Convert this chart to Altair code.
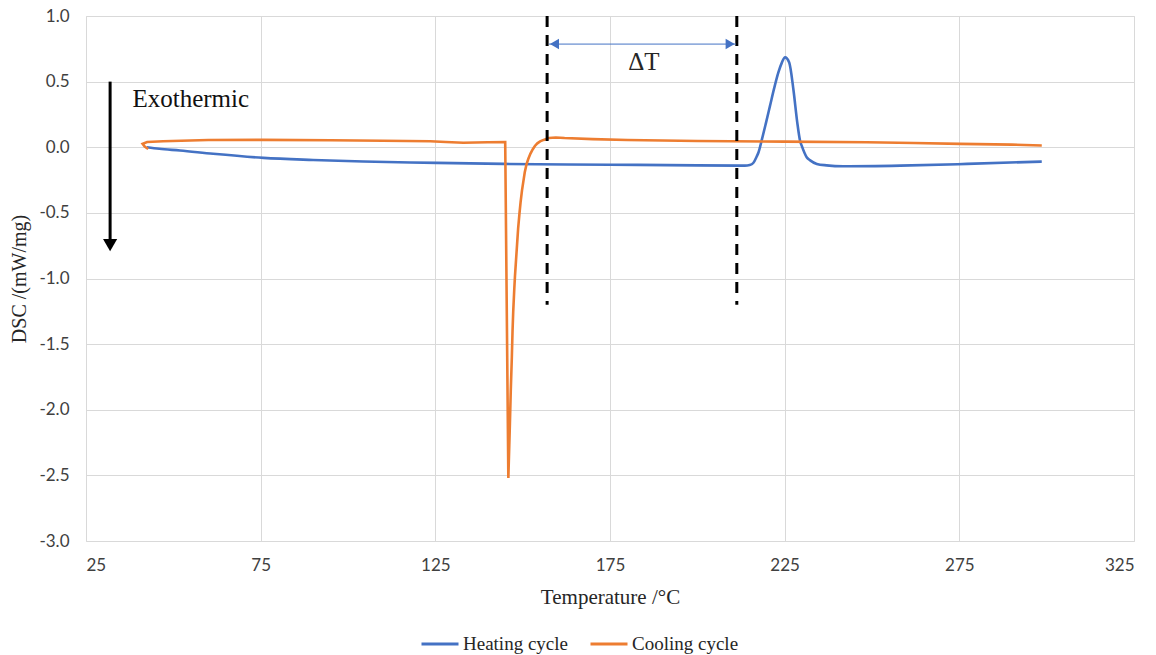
import altair as alt
import pandas as pd

# ---- data ----
heating_T = [42.4, 46, 51.9, 61.4, 75.8, 90, 104.4, 125.4, 144.5, 175, 200, 212, 213.6, 215,
             216, 217, 217.5, 218.4, 219.6, 220.8, 222, 223.2, 224.2, 225.1, 226.3, 227.5,
             228.6, 229.4, 229.9, 231.3, 232.3, 234.2, 237, 241.8, 258.1, 277.2, 298.6]
heating_dsc = [0.0, -0.012, -0.025, -0.05, -0.081, -0.097, -0.109, -0.119, -0.127, -0.133,
               -0.138, -0.14, -0.14, -0.135, -0.12, -0.07, -0.04, 0.05, 0.18, 0.315, 0.45,
               0.57, 0.645, 0.685, 0.646, 0.44, 0.19, 0.05, 0.01, -0.076, -0.10, -0.127,
               -0.138, -0.145, -0.14, -0.127, -0.109]

cooling_T = [298.6, 290, 275.2, 262, 248.5, 225, 200, 180, 170, 162, 159.5, 157.5, 156, 155,
             154.2, 153.5, 152.9, 152.2, 151.6, 151.1, 150.6, 150.2, 149.8, 149.4, 149.1, 148.7,
             148.4, 148.1, 147.8, 147.6, 147.3, 147.1, 146.9, 146.6, 146.3, 145.9, 145.0, 140,
             133, 128, 123.5, 110, 95, 75.8, 60, 47.1, 42.5, 41.2, 41.8, 42.8]
cooling_dsc = [0.013, 0.02, 0.026, 0.032, 0.038, 0.043, 0.048, 0.055, 0.062, 0.07, 0.074, 0.07,
               0.056, 0.045, 0.03, 0.01, -0.015, -0.05, -0.09, -0.13, -0.19, -0.26, -0.33,
               -0.42, -0.50, -0.62, -0.74, -0.86, -0.98, -1.08, -1.25, -1.40, -1.60, -1.85,
               -2.15, -2.52, 0.040, 0.038, 0.034, 0.04, 0.046, 0.05, 0.053, 0.056, 0.055, 0.046,
               0.04, 0.026, 0.005, -0.013]

series_names = ["Heating cycle", "Cooling cycle"]
series_colors = ["#4472C4", "#ED7D31"]

x_ticks = [25, 75, 125, 175, 225, 275, 325]
y_ticks = [1.0, 0.5, 0.0, -0.5, -1.0, -1.5, -2.0, -2.5, -3.0]

dash_T = [157.0, 211.3]
dash_top, dash_bottom = 1.0, -1.2
delta_T_start, delta_T_end, delta_T_y = 157.5, 211.0, 0.786
delta_label = "ΔT"
delta_label_T, delta_label_y = 184.7, 0.647
exo_T, exo_top, exo_tip = 31.9, 0.5, -0.80
exo_label = "Exothermic"
exo_label_T, exo_label_y = 38.3, 0.37

heat_df = pd.DataFrame({"series": series_names[0], "T": heating_T, "DSC": heating_dsc,
                        "i": list(range(len(heating_T)))})
cool_df = pd.DataFrame({"series": series_names[1], "T": cooling_T, "DSC": cooling_dsc,
                        "i": list(range(len(cooling_T)))})

xscale = alt.Scale(domain=[25, 325], nice=False, zero=False)
yscale = alt.Scale(domain=[-3, 1], nice=False, zero=False)

xaxis = alt.Axis(values=x_ticks, title="Temperature /°C", grid=True, gridColor="#d9d9d9",
                 domain=False, ticks=False, labelFont="Lato", labelFontSize=17,
                 labelColor="#404040", labelPadding=16, titleFont="Liberation Serif",
                 titleFontSize=21, titleFontWeight="normal", titleColor="#262626",
                 titlePadding=13)
yaxis = alt.Axis(values=y_ticks, title="DSC /(mW/mg)", grid=True,
                 labelExpr="replace(format(datum.value, '.1f'), '\u2212', '-')",
                 gridColor="#d9d9d9", domain=False, ticks=False, labelFont="Lato",
                 labelFontSize=17, labelColor="#404040", labelPadding=17,
                 titleFont="Liberation Serif", titleFontSize=20, titleFontWeight="normal",
                 titleColor="#262626", titlePadding=9)

color = alt.Color("series:N", scale=alt.Scale(domain=series_names, range=series_colors),
                  legend=alt.Legend(orient="none", legendX=334, legendY=608,
                                    direction="horizontal", title=None,
                                    symbolType="stroke", symbolSize=1369,
                                    symbolStrokeWidth=3, labelFont="Liberation Serif",
                                    labelFontSize=19, labelColor="#262626",
                                    labelOffset=3, columnPadding=16))

heat_line = alt.Chart(heat_df).mark_line(strokeWidth=2.6, clip=False,
                                         interpolate="monotone").encode(
    x=alt.X("T:Q", scale=xscale, axis=xaxis),
    y=alt.Y("DSC:Q", scale=yscale, axis=yaxis),
    color=color, order="i:Q")

cool_line = alt.Chart(cool_df).mark_line(strokeWidth=2.6, clip=False).encode(
    x=alt.X("T:Q", scale=xscale, axis=xaxis),
    y=alt.Y("DSC:Q", scale=yscale, axis=yaxis),
    color=color, order="i:Q")

dash_df = pd.DataFrame({"T": dash_T, "top": [dash_top] * 2, "bottom": [dash_bottom] * 2})
dashes = alt.Chart(dash_df).mark_rule(color="black", strokeWidth=3, strokeDash=[11, 8],
                                      clip=False).encode(
    x=alt.X("T:Q", scale=xscale), y=alt.Y("top:Q", scale=yscale), y2="bottom:Q")

delta_df = pd.DataFrame({"a": [delta_T_start], "b": [delta_T_end], "y": [delta_T_y]})
delta_line = alt.Chart(delta_df).mark_rule(color="#4472C4", strokeWidth=1).encode(
    x=alt.X("a:Q", scale=xscale), x2="b:Q", y=alt.Y("y:Q", scale=yscale))

heads_df = pd.DataFrame({"T": [delta_T_start + 1.6, delta_T_end - 1.6],
                         "y": [delta_T_y, delta_T_y],
                         "shape": ["triangle-left", "triangle-right"]})
heads = alt.Chart(heads_df).mark_point(filled=True, size=110, color="#4472C4", opacity=1).encode(
    x=alt.X("T:Q", scale=xscale), y=alt.Y("y:Q", scale=yscale),
    shape=alt.Shape("shape:N", scale=None))

delta_text = alt.Chart(pd.DataFrame({"T": [delta_label_T], "y": [delta_label_y],
                                     "t": [delta_label]})).mark_text(
    font="Liberation Serif", fontSize=25, color="#262626", align="center",
    baseline="middle").encode(x=alt.X("T:Q", scale=xscale), y=alt.Y("y:Q", scale=yscale),
                              text="t:N")

exo_df = pd.DataFrame({"T": [exo_T], "top": [exo_top], "bottom": [exo_tip + 0.08]})
exo_line = alt.Chart(exo_df).mark_rule(color="black", strokeWidth=3).encode(
    x=alt.X("T:Q", scale=xscale), y=alt.Y("top:Q", scale=yscale), y2="bottom:Q")
exo_head = alt.Chart(pd.DataFrame({"T": [exo_T], "y": [exo_tip + 0.055]})).mark_point(
    filled=True, size=200, color="black", shape="triangle-down", opacity=1).encode(
    x=alt.X("T:Q", scale=xscale), y=alt.Y("y:Q", scale=yscale))
exo_text = alt.Chart(pd.DataFrame({"T": [exo_label_T], "y": [exo_label_y],
                                   "t": [exo_label]})).mark_text(
    font="Liberation Serif", fontSize=25, color="#111111", align="left",
    baseline="middle").encode(x=alt.X("T:Q", scale=xscale), y=alt.Y("y:Q", scale=yscale),
                              text="t:N")

chart = alt.layer(heat_line, cool_line, dashes, delta_line, heads, delta_text, exo_line,
                  exo_head, exo_text).properties(
    width=1048, height=525,
    autosize=alt.AutoSizeParams(type="none"),
    padding={"left": 86, "top": 16, "right": 22, "bottom": 114},
).configure_view(stroke=None).configure(background="white")

chart.save("out.html", embed_options={"renderer": "svg", "actions": False})
